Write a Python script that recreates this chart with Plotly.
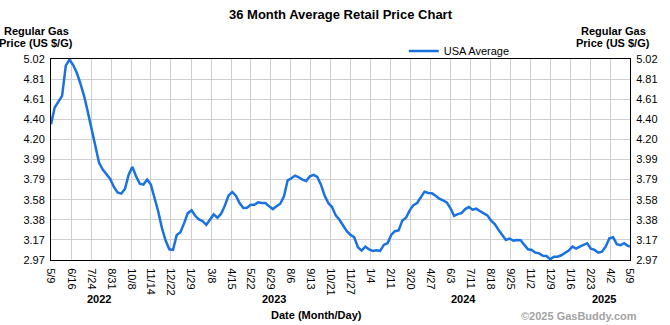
import pandas as pd
import plotly.graph_objects as go

# ---------------- data ----------------
series_name = "USA Average"
first_week = "2022-05-09"
weekly_price = [
    4.354, 4.525, 4.586, 4.644, 4.952, 5.013, 4.958, 4.877, 4.764, 4.637,
    4.473, 4.296, 4.139, 3.961, 3.893, 3.848, 3.797, 3.715, 3.660, 3.647,
    3.694, 3.841, 3.920, 3.824, 3.749, 3.739, 3.790, 3.739, 3.602, 3.465,
    3.295, 3.168, 3.079, 3.073, 3.226, 3.254, 3.346, 3.448, 3.476, 3.421,
    3.384, 3.366, 3.329, 3.387, 3.435, 3.401, 3.442, 3.524, 3.626, 3.664,
    3.626, 3.551, 3.500, 3.503, 3.534, 3.534, 3.558, 3.551, 3.551, 3.517,
    3.489, 3.517, 3.544, 3.619, 3.783, 3.804, 3.831, 3.814, 3.790, 3.776,
    3.824, 3.838, 3.817, 3.739, 3.626, 3.551, 3.510, 3.425, 3.380, 3.322,
    3.264, 3.226, 3.202, 3.100, 3.066, 3.107, 3.079, 3.062, 3.069, 3.062,
    3.124, 3.141, 3.226, 3.264, 3.271, 3.373, 3.401, 3.476, 3.530, 3.551,
    3.612, 3.667, 3.653, 3.650, 3.626, 3.595, 3.578, 3.558, 3.500, 3.421,
    3.438, 3.448, 3.489, 3.510, 3.483, 3.493, 3.469, 3.448, 3.425, 3.370,
    3.336, 3.278, 3.220, 3.175, 3.189, 3.168, 3.175, 3.172, 3.124, 3.079,
    3.073, 3.045, 3.038, 3.014, 3.011, 2.977, 3.004, 3.004, 3.018, 3.045,
    3.066, 3.107, 3.086, 3.107, 3.127, 3.141, 3.086, 3.073, 3.045, 3.055,
    3.107, 3.192, 3.202, 3.131, 3.121, 3.141, 3.114,
]
last_date = "2025-05-09"
last_price = 3.107

x_tick_dates = [
    "2022-05-09", "2022-06-16", "2022-07-24", "2022-08-31", "2022-10-08",
    "2022-11-14", "2022-12-22", "2023-01-29", "2023-03-08", "2023-04-15",
    "2023-05-22", "2023-06-29", "2023-08-06", "2023-09-13", "2023-10-21",
    "2023-11-27", "2024-01-04", "2024-02-11", "2024-03-20", "2024-04-27",
    "2024-06-03", "2024-07-11", "2024-08-18", "2024-09-25", "2024-11-02",
    "2024-12-09", "2025-01-16", "2025-02-23", "2025-04-02", "2025-05-09",
]
x_tick_labels = [
    "5/9", "6/16", "7/24", "8/31", "10/8", "11/14", "12/22", "1/29", "3/8",
    "4/15", "5/22", "6/29", "8/6", "9/13", "10/21", "11/27", "1/4", "2/11",
    "3/20", "4/27", "6/3", "7/11", "8/18", "9/25", "11/2", "12/9", "1/16",
    "2/23", "4/2", "5/9",
]
y_tick_values = [2.97, 3.175, 3.38, 3.585, 3.79, 3.995, 4.20, 4.405, 4.61, 4.815, 5.02]
y_tick_labels = ["2.97", "3.17", "3.38", "3.58", "3.79", "3.99", "4.20", "4.40", "4.61", "4.81", "5.02"]
year_labels = ["2022", "2023", "2024", "2025"]
year_label_dates = ["2022-08-07", "2023-07-06", "2024-06-28", "2025-03-20"]

# ---------------- figure ----------------
dates = list(pd.date_range(first_week, periods=len(weekly_price), freq="7D")) + [pd.Timestamp(last_date)]
prices = weekly_price + [last_price]

FONT = "Liberation Sans, Arial, sans-serif"
LINE_COLOR = "#1a72e0"
GRID = "#cfcfcf"

fig = go.Figure()
fig.add_trace(go.Scatter(
    x=dates, y=prices, mode="lines", name=series_name,
    line=dict(color=LINE_COLOR, width=2.5), yaxis="y",
))
fig.add_trace(go.Scatter(
    x=dates, y=prices, mode="lines", showlegend=False, hoverinfo="skip",
    line=dict(color="rgba(0,0,0,0)", width=0), yaxis="y2",
))

yaxis_common = dict(
    range=[y_tick_values[0], y_tick_values[-1]],
    tickmode="array", tickvals=y_tick_values, ticktext=y_tick_labels,
    tickfont=dict(family=FONT, size=11, color="#000"),
    ticks="outside", ticklen=3, tickcolor="rgba(0,0,0,0)",
    zeroline=False, fixedrange=True,
)

fig.update_layout(
    width=670, height=325,
    margin=dict(l=51, r=38, t=59, b=65),
    paper_bgcolor="white", plot_bgcolor="white",
    font=dict(family=FONT, size=11, color="#000"),
    title=dict(text="<b>36 Month Average Retail Price Chart</b>",
               x=0.5, xref="paper", xanchor="center",
               y=1 - 14 / 325, yref="container", yanchor="middle",
               font=dict(family=FONT, size=13, color="#000")),
    xaxis=dict(
        type="date", range=[x_tick_dates[0], x_tick_dates[-1]],
        tickmode="array", tickvals=x_tick_dates, ticktext=x_tick_labels,
        tickangle=90, tickfont=dict(family=FONT, size=11, color="#000"),
        ticks="outside", ticklen=5, tickcolor="rgba(0,0,0,0)",
        showgrid=True, gridcolor=GRID, gridwidth=1,
        showline=True, linecolor="#000", linewidth=1, mirror=True,
        zeroline=False,
    ),
    yaxis=dict(**yaxis_common, side="left",
               showgrid=True, gridcolor=GRID, gridwidth=1,
               showline=True, linecolor="#000", linewidth=1, mirror=True),
    yaxis2=dict(**yaxis_common, side="right", overlaying="y", showgrid=False,
                showline=False),
    showlegend=True,
    legend=dict(x=(410 - 51 - 5) / 581, xanchor="left", y=(260 - 51) / 201, yanchor="middle",
                xref="paper", yref="paper", orientation="h",
                bgcolor="rgba(0,0,0,0)", font=dict(family=FONT, size=11, color="#000"),
                itemwidth=30, tracegroupgap=0),
)

annotations = []
for lbl, d in zip(year_labels, year_label_dates):
    annotations.append(dict(text=f"<b>{lbl}</b>", x=d, xref="x", y=(260 - 299) / 201, yref="paper",
                            xanchor="center", yanchor="middle", showarrow=False,
                            font=dict(family=FONT, size=11, color="#000")))
annotations += [
    dict(text="<b>Date (Month/Day)</b>", x=(317.5 - 51) / 581, xref="paper", y=(260 - 315) / 201,
         yref="paper", xanchor="center", yanchor="middle", showarrow=False,
         font=dict(family=FONT, size=11, color="#000")),
    dict(text="<b>©2025 GasBuddy.com</b>", x=(641 - 51) / 581, xref="paper", y=(260 - 316) / 201,
         yref="paper", xanchor="right", yanchor="middle", showarrow=False,
         font=dict(family=FONT, size=11, color="#a3a3a3")),
]
for cx in (36, 615):
    annotations.append(dict(text="<b>Regular Gas</b>", x=(cx - 51) / 581, xref="paper",
                            y=(260 - 31) / 201, yref="paper", xanchor="center", yanchor="middle",
                            showarrow=False, font=dict(family=FONT, size=11, color="#000")))
    annotations.append(dict(text="<b>Price (US $/G)</b>", x=(cx - 51) / 581, xref="paper",
                            y=(260 - 43) / 201, yref="paper", xanchor="center", yanchor="middle",
                            showarrow=False, font=dict(family=FONT, size=11, color="#000")))
fig.update_layout(annotations=annotations)

fig.write_html("out.html", config=dict(displayModeBar=False))
